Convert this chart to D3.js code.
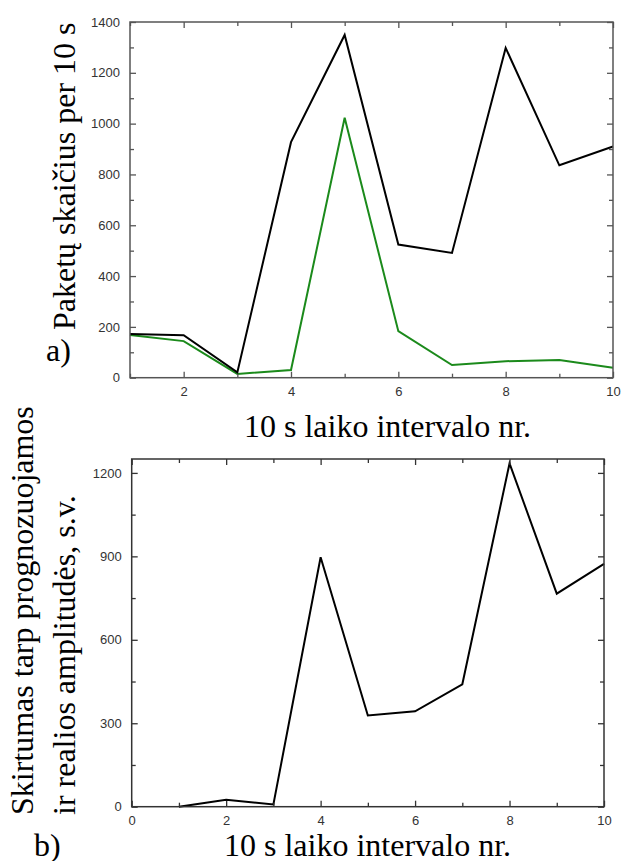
<!DOCTYPE html>
<html>
<head>
<meta charset="utf-8">
<script src="https://cdn.jsdelivr.net/npm/d3@7.9.0/dist/d3.min.js"></script>
<style>
  body { margin: 0; background: #fff; }
</style>
</head>
<body>
<svg id="chart" width="622" height="861"></svg>
<script>
// Data
const intervals = [1, 2, 3, 4, 5, 6, 7, 8, 9, 10];
const packetsTotal = [172, 167, 21, 927, 1349, 524, 491, 1298, 836, 910];
const packetsGreen = [168, 144, 15, 30, 1023, 183, 50, 65, 70, 39];
const amplitudeDiff = [0, 25, 8, 897, 328, 343, 440, 1234, 766, 873];

const topYTicks = [0, 200, 400, 600, 800, 1000, 1200, 1400];
const topXTicks = [2, 4, 6, 8, 10];
const botYTicks = [0, 300, 600, 900, 1200];
const botXTicks = [0, 2, 4, 6, 8, 10];

const SERIF = '"Liberation Serif", "Times New Roman", Times, "DejaVu Serif", serif';
const SANS = '"Liberation Sans", Arial, Helvetica, sans-serif';

const svg = d3.select("#chart");

function drawFrame(g, x, y, color, xMinor, yMinor, xLabels, yLabels) {
  const [x0, x1] = x.range();
  const [y0, y1] = y.range();
  const minorLen = 4, majorLen = 6;

  const addTicks = (axis, tf) => {
    const a = g.append("g").attr("transform", tf).call(axis);
    a.select(".domain").remove();
    a.selectAll(".tick line").attr("stroke", color).attr("stroke-width", 1.3);
    a.selectAll(".tick text")
      .style("font-family", SANS).style("font-size", "13px").attr("fill", "#333");
    return a;
  };
  const fmt = d3.format("d");

  // left
  addTicks(d3.axisLeft(y).tickValues(yMinor).tickSize(-minorLen).tickFormat(""), `translate(${x0},0)`);
  addTicks(d3.axisLeft(y).tickValues(yLabels).tickSize(-majorLen).tickPadding(10).tickFormat(fmt), `translate(${x0},0)`);
  // right
  addTicks(d3.axisRight(y).tickValues(yMinor).tickSize(-minorLen).tickFormat(""), `translate(${x1},0)`);
  addTicks(d3.axisRight(y).tickValues(yLabels).tickSize(-majorLen).tickFormat(""), `translate(${x1},0)`);
  // bottom
  addTicks(d3.axisBottom(x).tickValues(xMinor).tickSize(-minorLen).tickFormat(""), `translate(0,${y0})`);
  addTicks(d3.axisBottom(x).tickValues(xLabels).tickSize(-majorLen).tickPadding(9).tickFormat(fmt), `translate(0,${y0})`);
  // top
  addTicks(d3.axisTop(x).tickValues(xMinor).tickSize(-minorLen).tickFormat(""), `translate(0,${y1})`);
  addTicks(d3.axisTop(x).tickValues(xLabels).tickSize(-majorLen).tickFormat(""), `translate(0,${y1})`);

  g.append("rect")
    .attr("x", x0).attr("y", y1)
    .attr("width", x1 - x0).attr("height", y0 - y1)
    .attr("fill", "none").attr("stroke", color).attr("stroke-width", 1.5);
}

function title(g, text) {
  return g.append("text").text(text)
    .style("font-family", SERIF).style("font-size", "32px").attr("fill", "#000");
}

// ---- a) top chart ----
const xA = d3.scaleLinear().domain([1, 10]).range([130, 613]);
const yA = d3.scaleLinear().domain([0, 1400]).range([377.7, 22]);
const gA = svg.append("g");

const lineA = d3.line().x((d, i) => xA(intervals[i])).y(d => yA(d));
gA.append("path").datum(packetsGreen)
  .attr("d", lineA).attr("fill", "none").attr("stroke", "#1b8a1b").attr("stroke-width", 2);
gA.append("path").datum(packetsTotal)
  .attr("d", lineA).attr("fill", "none").attr("stroke", "#000").attr("stroke-width", 2);

drawFrame(gA, xA, yA, "#555",
  d3.range(1, 11, 2),
  d3.range(100, 1400, 200),
  topXTicks, topYTicks);

title(gA, "Paketų skaičius per 10 s").attr("transform", "translate(75,330) rotate(-90)");
title(gA, "a)").attr("x", 46).attr("y", 361);
title(gA, "10 s laiko intervalo nr.").attr("x", 244).attr("y", 437);

// ---- b) bottom chart ----
const xB = d3.scaleLinear().domain([0, 10]).range([131.7, 604]);
const yB = d3.scaleLinear().domain([0, 1250]).range([806.7, 459]);
const gB = svg.append("g");

const lineB = d3.line().x((d, i) => xB(intervals[i])).y(d => yB(d));
gB.append("path").datum(amplitudeDiff)
  .attr("d", lineB).attr("fill", "none").attr("stroke", "#000").attr("stroke-width", 2);

drawFrame(gB, xB, yB, "#333",
  d3.range(1, 11, 2),
  d3.range(150, 1250, 300),
  botXTicks, botYTicks);

title(gB, "Skirtumas tarp prognozuojamos").attr("transform", "translate(33,815) rotate(-90)");
title(gB, "ir realios amplitudės, s.v.").attr("transform", "translate(75,815) rotate(-90)");
title(gB, "b)").attr("x", 34).attr("y", 856);
title(gB, "10 s laiko intervalo nr.").attr("x", 224).attr("y", 856);
</script>
</body>
</html>
